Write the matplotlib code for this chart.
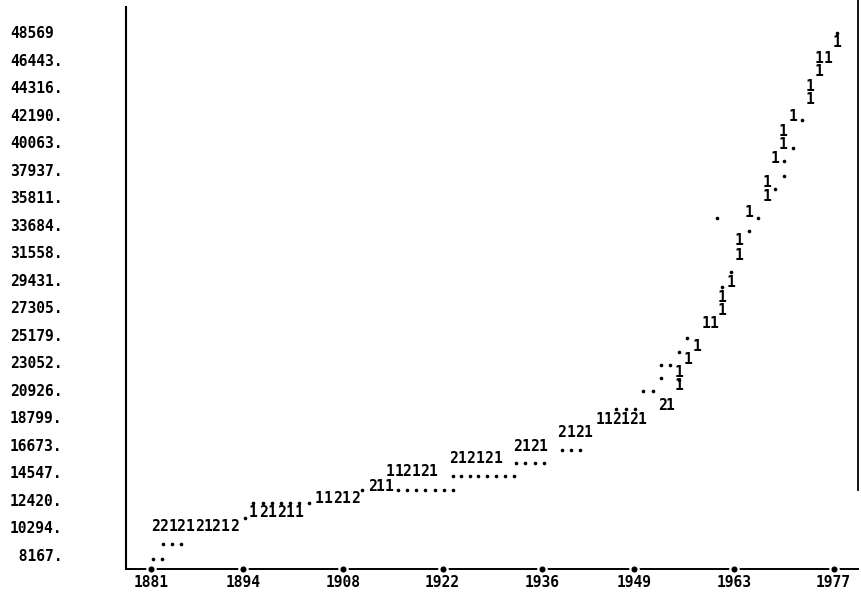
import matplotlib
matplotlib.use("Agg")
import matplotlib.pyplot as plt

# ---- data ----
x_ticks = [1881, 1894, 1908, 1922, 1936, 1949, 1963, 1977]
y_ticks = [48569, 46443, 44316, 42190, 40063, 37937, 35811, 33684, 31558, 29431,
           27305, 25179, 23052, 20926, 18799, 16673, 14547, 12420, 10294, 8167]
y_tick_labels = ["48569", "46443.", "44316.", "42190.", "40063.", "37937.", "35811.",
                 "33684.", "31558.", "29431.", "27305.", "25179.", "23052.", "20926.",
                 "18799.", "16673.", "14547.", "12420.", "10294.", " 8167."]

# cells printed with "1"
ones_x = [1884.1, 1886.5, 1889.0, 1891.4,
          1895.3, 1898.0, 1900.5, 1901.8,
          1904.6, 1905.9, 1908.4,
          1913.2, 1914.5,
          1914.6, 1915.9, 1918.3, 1920.7,
          1924.7, 1927.3, 1929.8,
          1933.7, 1936.1,
          1940.1, 1942.5,
          1944.2, 1945.3, 1947.7, 1950.1,
          1954.0,
          1955.3, 1955.3, 1956.5, 1957.8, 1959.1, 1960.2, 1961.3, 1961.3,
          1962.6, 1963.7, 1963.7, 1965.1, 1967.6, 1967.6, 1968.8, 1969.9,
          1969.9, 1971.3, 1973.7, 1973.7, 1974.9, 1974.9, 1976.2, 1977.5]
ones_y = [10330, 10330, 10330, 10330,
          11412, 11412, 11412, 11412,
          12493, 12493, 12493,
          13420, 13420,
          14579, 14579, 14579, 14579,
          15583, 15583, 15583,
          16510, 16510,
          17592, 17592,
          18596, 18596, 18596, 18596,
          19677,
          22227, 21222, 23231, 24235, 26012, 26012, 27016, 28020,
          29256, 31265, 32424, 34587, 35823, 36904, 38835, 39840,
          40844, 42003, 43316, 44320, 45479, 46560, 46560, 47796]

# cells printed with "2"
twos_x = [1881.6, 1882.8, 1885.2, 1887.8, 1890.1, 1892.7,
          1896.8, 1899.3,
          1907.2, 1909.7,
          1912.1,
          1917.0, 1919.4,
          1923.5, 1926.0, 1928.5,
          1932.5, 1935.0,
          1938.8, 1941.3,
          1946.5, 1948.8,
          1952.9]
twos_y = [10330, 10330, 10330, 10330, 10330, 10330,
          11412, 11412,
          12493, 12493,
          13420,
          14579, 14579,
          15583, 15583, 15583,
          16510, 16510,
          17592, 17592,
          18596, 18596,
          19677]

# cells printed with "."
dots_x = [1881.3, 1882.5,
          1882.7, 1884.0, 1885.2,
          1894.2,
          1895.3, 1896.8, 1898.0, 1899.3, 1900.5, 1901.8, 1903.2,
          1910.7,
          1915.7, 1917.0, 1918.3, 1919.5, 1920.9, 1922.2, 1923.5,
          1923.5, 1924.6, 1925.9, 1927.0, 1928.3, 1929.5, 1930.8, 1932.1,
          1932.3, 1933.6, 1935.0, 1936.3,
          1938.8, 1940.1, 1941.3,
          1946.4, 1947.8, 1949.1,
          1950.2, 1951.6,
          1952.7, 1954.0, 1952.7,
          1955.3, 1955.3, 1956.4,
          1961.3, 1962.6, 1965.1, 1960.6, 1966.4, 1968.8, 1970.0, 1970.0,
          1971.3, 1972.6, 1977.5]
dots_y = [7858, 7858,
          9017, 9017, 9017,
          11025,
          12184, 12184, 12184, 12184, 12184, 12184, 12184,
          13188,
          13188, 13188, 13188, 13188, 13188, 13188, 13188,
          14270, 14270, 14270, 14270, 14270, 14270, 14270, 14270,
          15274, 15274, 15274, 15274,
          16278, 16278, 16278,
          19446, 19446, 19446,
          20836, 20836,
          22845, 22845, 21840,
          21686, 23849, 24930,
          28870, 30029, 33196, 34200, 34200, 36441, 37445, 38604,
          39608, 41771, 48492]

# ---- figure ----
W, H = 861, 595
fig = plt.figure(figsize=(W / 100, H / 100), dpi=100)
fig.patch.set_facecolor("white")
ax = fig.add_axes([126 / W, 26 / H, 732 / W, 562 / H])
ax.set_xlim(1877.48, 1980.44)
ax.set_ylim(7085, 50500)

font = dict(family="DejaVu Sans Mono", weight="bold", size=10.5)

for s in ("top", "right"):
    ax.spines[s].set_visible(False)
ax.spines["left"].set_linewidth(1.5)
ax.spines["bottom"].set_linewidth(1.4)

# right partial border
ax.plot([1, 1], [0.14, 1.012], transform=ax.transAxes, color="black",
        lw=1.3, clip_on=False)

# ticks
ax.set_yticks(y_ticks, y_tick_labels, ha="left", **font)
ax.tick_params(axis="y", length=0, pad=83.5)
ax.set_xticks(x_ticks, [str(v) for v in x_ticks], **font)
ax.tick_params(axis="x", length=0, pad=4.5)

# tick blobs on the bottom axis
ax.plot(x_ticks, [7085] * len(x_ticks), "o", color="black", ms=6,
        mec="white", mew=1.6, clip_on=False, zorder=5)

# plotted cells
for x, y in zip(ones_x, ones_y):
    ax.text(x, y, "1", ha="center", va="center", color="black", **font)
for x, y in zip(twos_x, twos_y):
    ax.text(x, y, "2", ha="center", va="center", color="black", **font)
ax.plot(dots_x, dots_y, "o", color="black", ms=2.6, mew=0, linestyle="none")

fig.savefig("out.png", dpi=100, facecolor="white")
